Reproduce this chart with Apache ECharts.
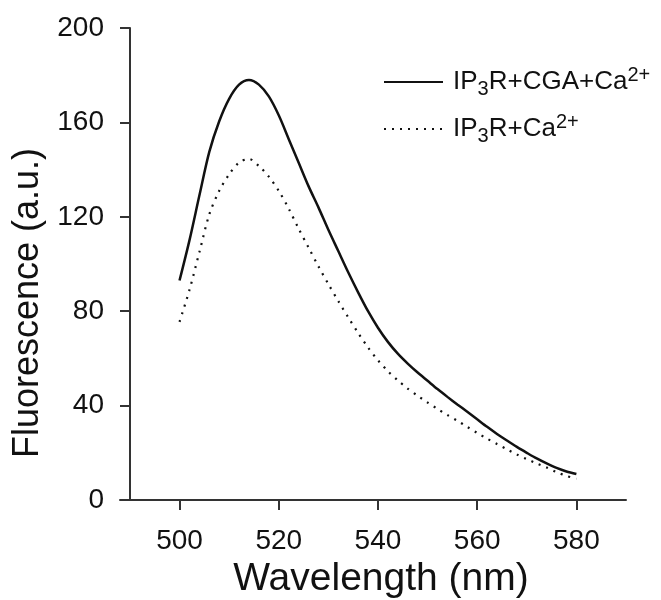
<!DOCTYPE html>
<html>
<head>
<meta charset="utf-8">
<script src="https://cdn.jsdelivr.net/npm/echarts@6/dist/echarts.min.js"></script>
<style>html,body{margin:0;padding:0;background:#fff;}#chart{width:661px;height:600px;}</style>
</head>
<body>
<div id="chart"></div>
<script>
const wavelengths = [500,502,504,506,508,510,512,514,516,518,520,522,524,526,528,530,532,534,536,538,540,542,544,546,548,550,552,554,556,558,560,562,564,566,568,570,572,574,576,578,580];
const withCGA = [93,110,129,147.5,160.5,170,176,178,176,171,163,153,143,133,124,114.5,105.5,96.5,88,80,73,67,62,57.8,54,50.5,47,43.7,40.5,37.4,34.2,31,28,25.2,22.5,20,17.6,15.5,13.6,12.1,11];
const withoutCGA = [75.5,89,105,121,131,138,143,144.5,141.5,137,131,123.5,115,107,99,91.5,84.3,77.4,70.8,64.6,59.2,54.6,50.7,47.2,44.2,41.3,38.6,36,33.6,31,28.4,26,23.7,21.5,19.3,17.3,15.5,13.8,11.8,10.2,9];
const xTicks = [500,520,540,560,580];
const seriesNames = ['IP3R+CGA+Ca2+','IP3R+Ca2+'];
const legendRich = {
  'IP3R+CGA+Ca2+': '{n|IP}{sub|3}{n|R+CGA+Ca}{sup|2+}',
  'IP3R+Ca2+': '{n|IP}{sub|3}{n|R+Ca}{sup|2+}'
};
const FONT = '"Liberation Sans", Arial, Helvetica, sans-serif';

const chart = echarts.init(document.getElementById('chart'));
chart.setOption({
  backgroundColor: '#fff',
  animation: false,
  color: ['#111', '#111'],
  grid: {left: 120, right: 35, top: 28, bottom: 100, containLabel: false, outerBoundsMode: 'none'},
  xAxis: {
    type: 'value', min: 488, max: 590,
    name: 'Wavelength (nm)', nameLocation: 'middle', nameGap: 60,
    nameTextStyle: {fontFamily: FONT, fontSize: 39, color: '#111', padding: [0,0,0,16]},
    axisLine: {onZero: false, lineStyle: {color: '#333', width: 2}},
    axisTick: {show: true, length: 10, inside: false, customValues: xTicks, lineStyle: {color: '#333', width: 2}},
    axisLabel: {customValues: xTicks, margin: 27, fontFamily: FONT, fontSize: 28, color: '#111'},
    splitLine: {show: false}
  },
  yAxis: {
    type: 'value', min: 0, max: 200, interval: 40, offset: -10,
    name: 'Fluorescence (a.u.)', nameLocation: 'middle', nameGap: 82,
    nameTextStyle: {fontFamily: FONT, fontSize: 36, color: '#111', padding: [0,78,0,0]},
    axisLine: {show: true, onZero: false, lineStyle: {color: '#333', width: 2}},
    axisTick: {show: true, length: 10, lineStyle: {color: '#333', width: 2}},
    axisLabel: {margin: 26, fontFamily: FONT, fontSize: 28, color: '#111'},
    splitLine: {show: false}
  },
  legend: {
    orient: 'vertical', left: 378, top: 60, itemWidth: 59, itemHeight: 14, itemGap: 13,
    data: seriesNames,
    itemStyle: {opacity: 0},
    formatter: name => legendRich[name],
    textStyle: {
      fontFamily: FONT, color: '#111', padding: [0,0,0,5],
      rich: {
        n: {fontFamily: FONT, fontSize: 26, lineHeight: 34, color: '#111'},
        sub: {fontFamily: FONT, fontSize: 20, lineHeight: 23, verticalAlign: 'bottom', color: '#111'},
        sup: {fontFamily: FONT, fontSize: 20, lineHeight: 19, verticalAlign: 'top', color: '#111'}
      }
    }
  },
  series: [
    {
      name: seriesNames[0], type: 'line', smooth: 0.3, symbol: 'none',
      data: wavelengths.map((w, i) => [w, withCGA[i]]),
      itemStyle: {color: '#111'},
      lineStyle: {color: '#111', width: 2.5}
    },
    {
      name: seriesNames[1], type: 'line', smooth: 0.3, symbol: 'none',
      data: wavelengths.map((w, i) => [w, withoutCGA[i]]),
      itemStyle: {color: '#111'},
      lineStyle: {color: '#111', width: 2.2, type: [2, 6]}
    }
  ]
});
</script>
</body>
</html>
